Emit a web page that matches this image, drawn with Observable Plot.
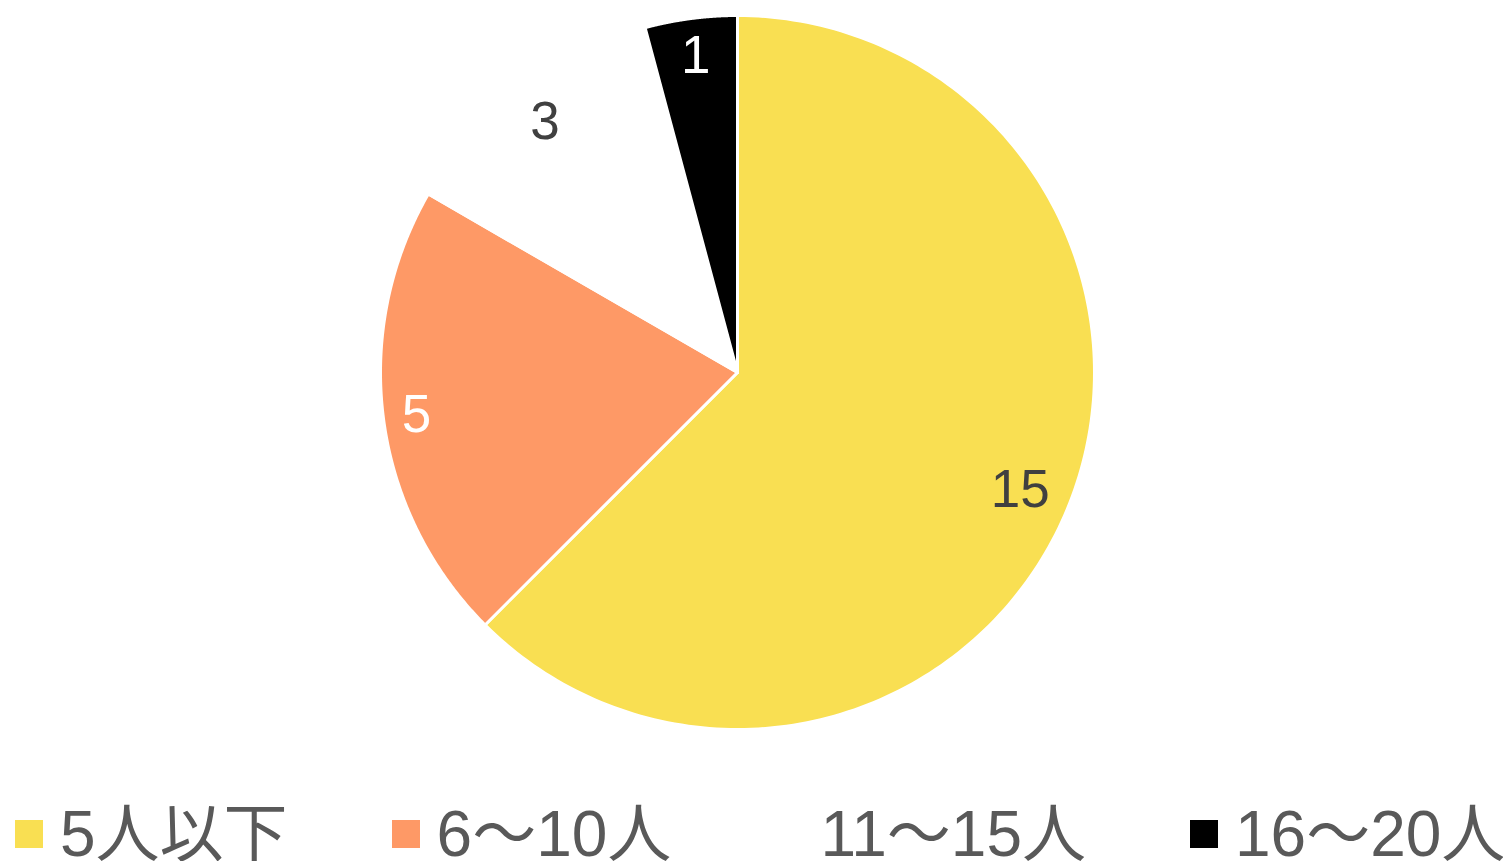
<!DOCTYPE html>
<html>
<head>
<meta charset="utf-8">
<script src="https://cdn.jsdelivr.net/npm/d3@7"></script>
<script src="https://cdn.jsdelivr.net/npm/@observablehq/plot@0.6"></script>
<style>
  html, body { margin: 0; padding: 0; background: #fff; }
  body { width: 1503px; height: 861px; overflow: hidden; font-family: "Liberation Sans", Arial, "Noto Sans CJK JP", sans-serif; }
  #legend { display: flex; align-items: center; gap: 104px; margin-left: 15px; height: 60px; margin-top: 4px; white-space: nowrap; }
  .item { display: flex; align-items: center; }
  .sw { width: 28px; height: 28px; margin-right: 17px; flex: none; }
  .lab { font-size: 64px; line-height: 60px; color: #595959; }
</style>
</head>
<body>
<div id="chart"></div>
<div id="legend"></div>
<script>
const categories = ["5人以下", "6〜10人", "11〜15人", "16〜20人"];
const values = [15, 5, 3, 1];
const colors = ["#f9df52", "#fe9966", "#ffffff", "#000000"];
const labelColors = ["#404040", "#ffffff", "#404040", "#ffffff"];

const W = 1503, H = 800, cx = 737, cy = 372, R = 357;
const labelSize = 53, pad = 16;

const pie = d3.pie().sort(null).value(d => d.value).startAngle(0).endAngle(2 * Math.PI);
const rows = categories.map((c, i) => ({cat: c, value: values[i]}));
const arcs = pie(rows);

const pts = [];
const labels = [];
arcs.forEach(a => {
  pts.push({cat: a.data.cat, x: 0, y: 0});
  const n = 200;
  for (let k = 0; k <= n; k++) {
    const t = a.startAngle + (a.endAngle - a.startAngle) * k / n;
    pts.push({cat: a.data.cat, x: Math.sin(t), y: Math.cos(t)});
  }
  const m = (a.startAngle + a.endAngle) / 2;
  const sx = Math.sin(m), sy = Math.cos(m);
  const txt = String(a.data.value);
  const hw = 0.28 * labelSize * txt.length, hh = 20;
  const inset = Math.abs(sx) * hw + Math.abs(sy) * hh + pad;
  const r = (R - inset) / R;
  labels.push({cat: a.data.cat, value: a.data.value, x: r * sx, y: r * sy});
});

const chart = Plot.plot({
  width: W,
  height: H,
  margin: 0,
  x: {domain: [-cx / R, (W - cx) / R], range: [0, W], axis: null},
  y: {domain: [-(H - cy) / R, cy / R], range: [H, 0], axis: null},
  color: {domain: categories, range: colors},
  style: {background: "#fff"},
  marks: [
    Plot.line(pts, {x: "x", y: "y", z: "cat", fill: "cat", stroke: "#ffffff", strokeWidth: 3, curve: "linear-closed"}),
    Plot.text(labels, {
      x: "x", y: "y", text: d => String(d.value),
      fill: d => labelColors[categories.indexOf(d.cat)],
      fontSize: labelSize, fontFamily: "Liberation Sans, Arial, sans-serif"
    })
  ]
});
document.getElementById("chart").appendChild(chart);

const legend = document.getElementById("legend");
categories.forEach((c, i) => {
  const it = document.createElement("div");
  it.className = "item";
  const sw = document.createElement("span");
  sw.className = "sw";
  sw.style.background = colors[i];
  const lb = document.createElement("span");
  lb.className = "lab";
  lb.textContent = c;
  it.appendChild(sw);
  it.appendChild(lb);
  legend.appendChild(it);
});
</script>
</body>
</html>
